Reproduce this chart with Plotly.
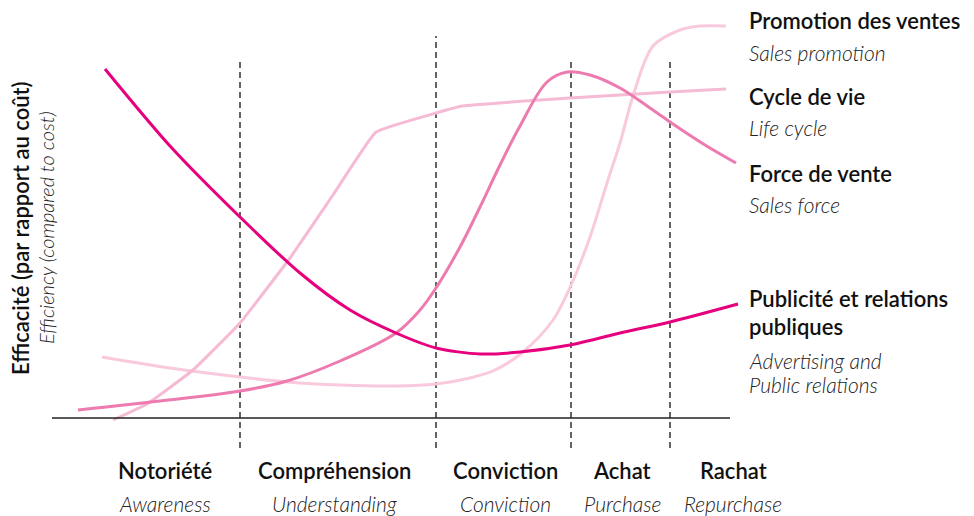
import plotly.graph_objects as go

# x = position along the buying process, y = efficiency (height above the axis)
pub_x = [105, 170, 240, 300, 350, 396, 436, 480, 520, 570, 620, 670, 738]
pub_y = [349, 272, 201, 145, 108, 85, 70, 64, 66, 73, 85, 96, 114]

force_x = [78, 160, 240, 287, 340, 396, 420, 436, 460, 480, 500, 520, 547, 567, 590, 620, 650, 670, 705, 736]
force_y = [8, 17, 27, 37, 57, 85, 108, 130, 171, 211, 253, 292, 336, 346, 343, 330, 310, 296, 273, 255]

cycle_x = [113, 147, 193, 240, 290, 333, 376, 436, 462, 570, 620, 670, 726]
cycle_y = [-2, 14, 48, 95, 160, 223, 286, 305, 312, 320, 323, 326, 329]

promo_x = [102, 170, 240, 287, 340, 396, 436, 470, 495, 523, 553, 572, 590, 607, 620, 633, 653, 680, 700, 726]
promo_y = [61, 50, 41, 36, 33, 32, 34, 40, 48, 66, 98, 135, 181, 235, 275, 322, 372, 388, 392, 392]

stage_bounds = [240, 436, 571, 670]
stage_tops = [358, 382, 358, 358]
stages_fr = ["Notoriété", "Compréhension", "Conviction", "Achat", "Rachat"]
stages_en = ["Awareness", "Understanding", "Conviction", "Purchase", "Repurchase"]
stage_centres = [165, 334, 505, 622, 733]

FONT = "Lato"
HEAD = dict(family=FONT, size=22, color="#111111", weight=600)
SUB = dict(family=FONT, size=21, color="#222222", style="italic", weight=300)

fig = go.Figure()

fig.add_trace(go.Scatter(x=promo_x, y=promo_y, mode="lines", line=dict(color="#F9C9DD", width=3, shape="spline", smoothing=0.9)))
fig.add_trace(go.Scatter(x=cycle_x, y=cycle_y, mode="lines", line=dict(color="#F6BAD4", width=3, shape="spline", smoothing=0.3)))
fig.add_trace(go.Scatter(x=force_x, y=force_y, mode="lines", line=dict(color="#EE7BB0", width=3, shape="spline", smoothing=1.0)))
fig.add_trace(go.Scatter(x=pub_x, y=pub_y, mode="lines", line=dict(color="#E6007E", width=3, shape="spline", smoothing=0.8)))

for xb, top in zip(stage_bounds, stage_tops):
    fig.add_shape(type="line", x0=xb, x1=xb, y0=-30, y1=top, line=dict(color="#222222", width=1.4, dash="6px,4px"), layer="below")
fig.add_shape(type="line", x0=52, x1=730, y0=0, y1=0, line=dict(color="#222222", width=1.5))

for fr, en, xc in zip(stages_fr, stages_en, stage_centres):
    fig.add_annotation(x=xc, y=-52, text=fr, showarrow=False, font=HEAD, xanchor="center", yanchor="middle")
    fig.add_annotation(x=xc, y=-85, text=en, showarrow=False, font=SUB, xanchor="center", yanchor="middle")

labels = [
    ("Promotion des ventes", 398, HEAD),
    ("Sales promotion", 366, SUB),
    ("Cycle de vie", 322, HEAD),
    ("Life cycle", 291, SUB),
    ("Force de vente", 245, HEAD),
    ("Sales force", 214, SUB),
    ("Publicité et relations", 120, HEAD),
    ("publiques", 92, HEAD),
    ("Advertising and", 58, SUB),
    ("Public relations", 34, SUB),
]
for txt, yy, fnt in labels:
    fig.add_annotation(x=747, y=yy, text=txt, showarrow=False, font=fnt, xanchor="left", yanchor="middle")

fig.add_annotation(x=20, y=190, text="Efficacité (par rapport au coût)", textangle=-90, showarrow=False,
                   font=dict(family=FONT, size=22, color="#111111", weight=600), xanchor="center", yanchor="middle")
fig.add_annotation(x=46, y=190, text="Efficiency (compared to cost)", textangle=-90, showarrow=False,
                   font=dict(family=FONT, size=20, color="#222222", style="italic", weight=300), xanchor="center", yanchor="middle")

# the page adds an 8px body margin, so the ranges are shifted to compensate
fig.update_xaxes(range=[8, 982], visible=False, fixedrange=True)
fig.update_yaxes(range=[-106, 410], visible=False, fixedrange=True)
fig.update_layout(width=974, height=516, margin=dict(l=0, r=0, t=0, b=0), showlegend=False,
                  plot_bgcolor="white", paper_bgcolor="white")
fig.write_html("out.html")
